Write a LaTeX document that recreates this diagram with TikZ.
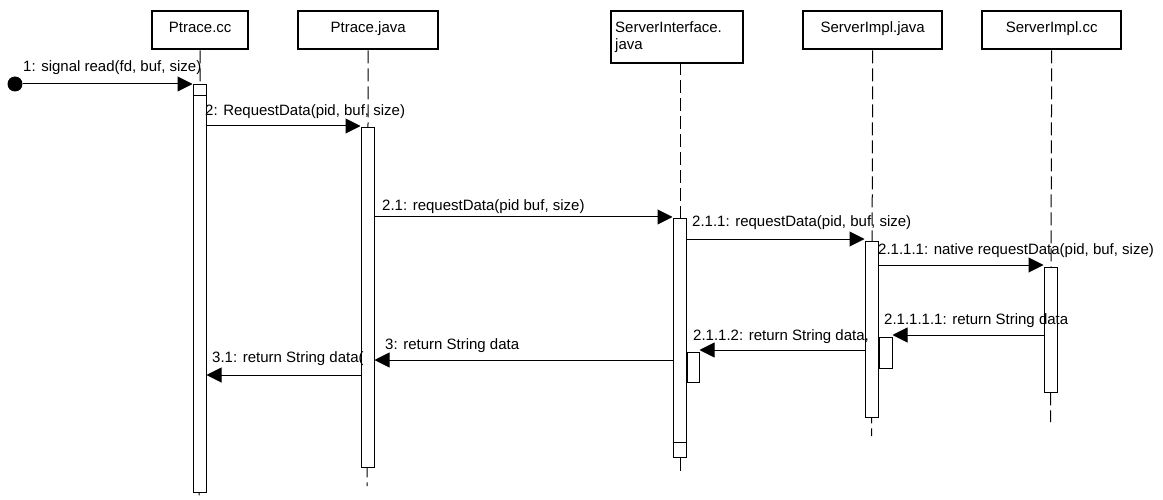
\documentclass[tikz,border=0pt]{standalone}
\usepackage{fontspec}
\setmainfont{Liberation Sans}
\usetikzlibrary{arrows.meta}

\begin{document}
\begin{tikzpicture}[x=1pt, y=-1pt,
	txt/.style={font=\fontsize{15pt}{17.5pt}\selectfont},
	hdr/.style={txt, draw, line width=2.4pt, anchor=north west, inner xsep=4pt},
	hdrone/.style={hdr, minimum height=38pt, inner ysep=7pt, text height=14pt, text depth=10pt},
	lifeline/.style={line width=1pt, dash pattern=on 13pt off 5pt},
	act/.style={draw, fill=white, line width=1pt, minimum width=13pt, inner sep=0pt, anchor=north},
	nest/.style={act, anchor=north west},
	msg/.style={line width=1pt, -{Triangle[length=15pt,width=15pt]}},
	lbl/.style={txt, anchor=west, inner sep=0pt}]
	\useasboundingbox (0,0) rectangle (1163,500);
	% objects
	\node[hdrone, minimum width=96pt] (ptracecc) at (151,10) {Ptrace.cc};
	\node[hdrone, minimum width=140pt] (ptracejava) at (297,10) {Ptrace.java};
	\node[hdr, minimum width=132pt, minimum height=52pt, text width=124pt, align=left] (serverif) at (610,10) {ServerInterface.\\java};
	\node[hdrone, minimum width=139pt] (implJava) at (802,10) {ServerImpl.java};
	\node[hdrone, minimum width=139pt] (implCc) at (981,10) {ServerImpl.cc};
	% lifelines
	\coordinate (ptraceccEnd) at (199,500);
	\coordinate (ptracejavaEnd) at (367,486);
	\coordinate (serverifTop) at (680,62);
	\coordinate (serverifEnd) at (680,472);
	\coordinate (implJavaEnd) at (871.5,436);
	\coordinate (implCcEnd) at (1050.5,422);
	\draw[lifeline] (ptracecc.south) -- (ptraceccEnd);
	\draw[lifeline] (ptracejava.south) -- (ptracejavaEnd);
	\draw[lifeline] (serverifTop) -- (serverifEnd);
	\draw[lifeline] (implJava.south) -- (implJavaEnd);
	\draw[lifeline] (implCc.south) -- (implCcEnd);
	% activations
	\node[act, minimum height=408pt] (barCc) at (199.5,84) {};
	\node[act, minimum height=340pt] (barJava) at (367.5,127) {};
	\node[act, minimum height=239pt] (barIf) at (679.5,218) {};
	\node[act, minimum height=176pt] (barImplJava) at (871.5,241) {};
	\node[act, minimum height=125pt] (barImplCc) at (1050.5,267) {};
	\node[nest, minimum width=12pt, minimum height=30pt] (nestIf) at (barIf.east |- 0,352) {};
	\node[nest, minimum height=31pt] (nestImplJava) at (barImplJava.east |- 0,337) {};
	\draw[line width=1pt] (barCc.west |- 0,96) -- (barCc.east |- 0,96);
	\draw[line width=1pt] (barIf.west |- 0,442) -- (barIf.east |- 0,442);
	% messages
	\node[circle, fill=black, inner sep=0pt, minimum size=15pt] (start) at (15,84) {};
	\draw[msg] (start) -- (barCc.west |- start);
	\draw[msg] (barCc.east |- 0,126) -- (barJava.west |- 0,126);
	\draw[msg] (barJava.east |- 0,217) -- (barIf.west |- 0,217);
	\draw[msg] (barIf.east |- 0,239) -- (barImplJava.west |- 0,239);
	\draw[msg] (barImplJava.east |- 0,265) -- (barImplCc.west |- 0,265);
	\draw[msg] (barImplCc.west |- 0,335) -- (nestImplJava.east |- 0,335);
	\draw[msg] (barImplJava.west |- 0,350) -- (nestIf.east |- 0,350);
	\draw[msg] (barIf.west |- 0,360) -- (barJava.east |- 0,360);
	\draw[msg] (barJava.west |- 0,375) -- (barCc.east |- 0,375);
	% labels
	\node[lbl] (l1) at (23,68) {1: signal read(fd, buf, size)};
	\node[lbl] (l2) at (205,112) {2: RequestData(pid, buf, size)};
	\node[lbl] (l21) at (382,207) {2.1: requestData(pid buf, size)};
	\node[lbl] (l211) at (692,223) {2.1.1: requestData(pid, buf, size)};
	\node[lbl] (l2111) at (878,251) {2.1.1.1: native requestData(pid, buf, size)};
	\node[lbl] (l21111) at (884,321) {2.1.1.1.1: return String data};
	\node[lbl] (l2112) at (693,337) {2.1.1.2: return String data,};
	\node[lbl] (l3) at (385,346) {3: return String data};
	\node[lbl] (l31) at (212,359) {3.1: return String data(};
\end{tikzpicture}
\end{document}
